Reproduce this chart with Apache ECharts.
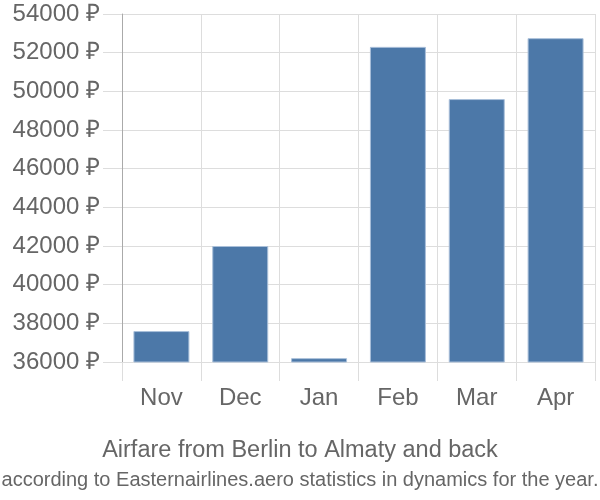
<!DOCTYPE html>
<html><head><meta charset="utf-8">
<script src="https://cdn.jsdelivr.net/npm/echarts@6/dist/echarts.min.js"></script>
<style>html,body{margin:0;padding:0;background:#fff}#c{width:600px;height:500px}</style>
</head><body><div id="c"></div>
<script>
const categories = ['Nov', 'Dec', 'Jan', 'Feb', 'Mar', 'Apr'];
const prices = [37600, 42000, 36200, 52300, 49600, 52750];
const titleText = 'Airfare from Berlin to Almaty and back';
const subtitleText = 'according to Easternairlines.aero statistics in dynamics for the year.';

const chart = echarts.init(document.getElementById('c'), null, {renderer: 'canvas'});
const font = '"Liberation Sans", Arial, sans-serif';
chart.setOption({
  animation: false,
  backgroundColor: '#fff',
  title: [
    {text: titleText, left: 'center', top: 434, textStyle: {fontFamily: font, fontSize: 23.5, fontWeight: 'normal', color: '#666'}},
    {text: subtitleText, left: 'center', top: 465, textStyle: {fontFamily: font, fontSize: 20, fontWeight: 'normal', color: '#666'}}
  ],
  grid: {left: 122, right: 5, top: 14, bottom: 138, containLabel: false},
  xAxis: {
    type: 'category', data: categories,
    axisLine: {show: false},
    axisTick: {show: true, length: 19, lineStyle: {color: '#ddd'}},
    splitLine: {show: true, lineStyle: {color: '#ddd'}},
    axisLabel: {margin: 24, fontFamily: font, fontSize: 24, color: '#666'}
  },
  yAxis: {
    type: 'value', min: 36000, max: 54000, interval: 2000,
    axisLine: {show: true, lineStyle: {color: '#aaa'}},
    axisTick: {show: true, length: 19, lineStyle: {color: '#ddd'}},
    splitLine: {show: true, lineStyle: {color: '#ddd'}},
    axisLabel: {margin: 22, fontFamily: font, fontSize: 24, color: '#666', formatter: v => v + ' ₽'}
  },
  series: [{
    type: 'bar', data: prices, barCategoryGap: '29%',
    itemStyle: {color: '#4c78a8', borderColor: '#a9bfd9', borderWidth: 1}
  }]
});
</script></body></html>
